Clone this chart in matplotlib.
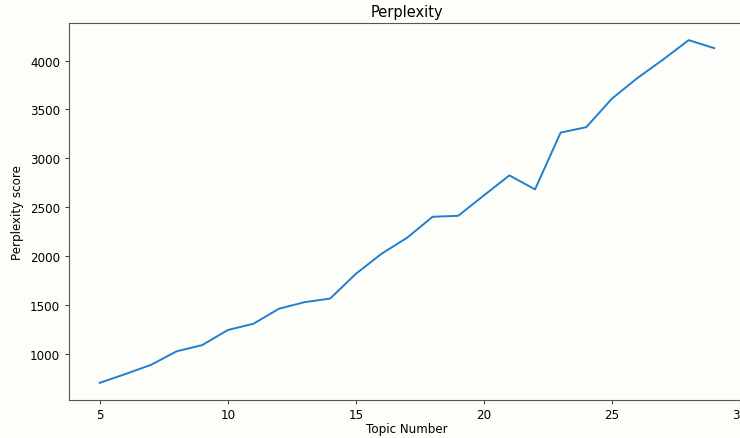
import matplotlib
matplotlib.use("Agg")
import matplotlib.pyplot as plt

topics = list(range(5, 30))
perplexity = [705, 795, 889, 1027, 1091, 1245, 1309, 1463, 1530, 1567,
              1819, 2024, 2188, 2403, 2413, 2621, 2826, 2683, 3264, 3319,
              3610, 3822, 4010, 4209, 4127]

bg = "#fdfdfa"
fig = plt.figure(figsize=(7.4, 4.39), dpi=100, facecolor=bg)
ax = fig.add_axes([69/740, 38/439, 676/740, 377/439], facecolor=bg)
ax.plot(topics, perplexity, color="#1f7fd0", linewidth=1.4)
ax.set_xticks([5, 10, 15, 20, 25, 30])
ax.set_title("Perplexity", fontsize=10.5, pad=5)
ax.set_xlabel("Topic Number", fontsize=8.6, labelpad=1)
ax.set_ylabel("Perplexity score", fontsize=8.6, labelpad=4)
ax.tick_params(axis="x", pad=2.5)
ax.tick_params(labelsize=8.6, length=3, color="#444444")
ax.spines["right"].set_visible(False)
for s in ax.spines.values():
    s.set_color("#555555")
fig.savefig("out.png", dpi=100, facecolor=bg)
